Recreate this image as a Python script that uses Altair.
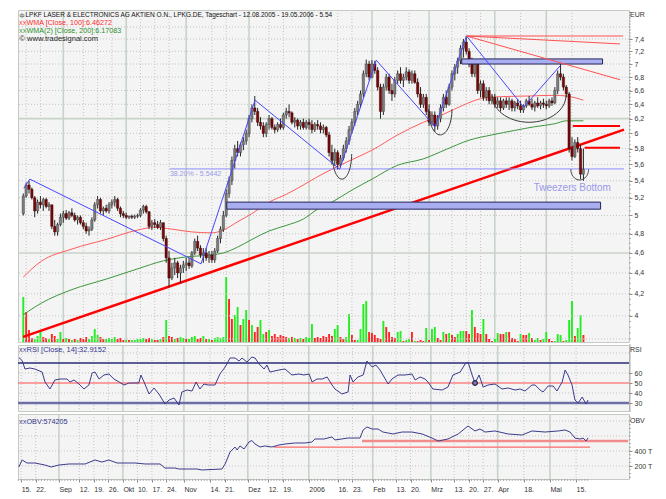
import json
import numpy as np
import pandas as pd
import altair as alt

FONT = "Liberation Sans"

# ---------------- trading calendar ----------------
HOLIDAYS = ["2005-12-26", "2006-04-14", "2006-04-17", "2006-05-01"]
days = [d for d in pd.bdate_range("2005-08-12", "2006-05-19") if d.strftime("%Y-%m-%d") not in HOLIDAYS]
day_pos = {d.strftime("%Y-%m-%d"): k for k, d in enumerate(days)}

tick_dates = ["2005-08-15", "2005-08-22", "2005-09-01", "2005-09-12", "2005-09-19", "2005-09-26",
              "2005-10-03", "2005-10-10", "2005-10-17", "2005-10-24", "2005-11-01", "2005-11-14",
              "2005-11-21", "2005-12-01", "2005-12-12", "2005-12-19", "2006-01-02", "2006-01-16",
              "2006-01-23", "2006-02-01", "2006-02-13", "2006-02-20", "2006-03-01", "2006-03-13",
              "2006-03-20", "2006-03-27", "2006-04-03", "2006-04-18", "2006-05-02", "2006-05-15"]
tick_labels = ["15.", "22.", "Sep", "12.", "19.", "26.", "Okt", "10.", "17.", "24.", "Nov", "14.",
               "21.", "Dez", "12.", "19.", "2006", "16.", "23.", "Feb", "13.", "20.", "Mrz", "13.",
               "20.", "27.", "Apr", "18.", "Mai", "15."]
tick_major = [0, 0, 1, 0, 0, 0, 1, 0, 0, 0, 1, 0, 0, 1, 0, 0, 1, 0, 0, 1, 0, 0, 1, 0, 0, 0, 1, 0, 1, 0]
tick_idx = [day_pos[d] for d in tick_dates]

# ---------------- OHLC (EUR) ----------------
opens = [
    5.02, 5.22, 5.35, 5.30, 5.20, 5.05, 5.15, 5.12, 5.18, 5.10,
    5.12, 4.88, 4.82, 4.90, 4.98, 5.02, 4.97, 5.03, 5.00, 4.95,
    4.98, 4.92, 4.88, 4.83, 4.85, 4.95, 5.12, 5.18, 5.05, 5.08,
    5.05, 5.12, 5.15, 5.18, 5.08, 5.02, 5.00, 4.98, 4.99, 4.98,
    4.99, 5.00, 5.06, 5.10, 5.04, 4.88, 4.92, 4.90, 4.87, 4.92,
    4.75, 4.55, 4.35, 4.45, 4.50, 4.40, 4.45, 4.48, 4.50, 4.47,
    4.60, 4.72, 4.65, 4.58, 4.60, 4.55, 4.58, 4.53, 4.62, 4.75,
    4.85, 5.00, 5.25, 5.40, 5.65, 5.80, 5.75, 5.85, 5.90, 6.00,
    6.20, 6.35, 6.30, 6.15, 6.10, 6.00, 6.12, 6.20, 6.08, 6.05,
    6.12, 6.08, 6.25, 6.30, 6.28, 6.15, 6.18, 6.10, 6.15, 6.08,
    6.15, 6.12, 6.05, 6.12, 6.10, 6.05, 6.08, 5.98, 5.75, 5.65,
    5.75, 5.60, 5.68, 5.80, 5.90, 6.05, 6.15, 6.30, 6.40, 6.55,
    6.85, 7.00, 6.80, 7.00, 6.90, 6.65, 6.30, 6.65, 6.80, 6.60,
    6.55, 6.75, 6.85, 6.75, 6.80, 6.88, 6.75, 6.85, 6.72, 6.55,
    6.40, 6.50, 6.30, 6.15, 6.25, 6.10, 6.20, 6.35, 6.50, 6.40,
    6.65, 6.85, 6.95, 7.05, 7.25, 7.35, 7.20, 7.00, 6.85, 7.00,
    6.60, 6.70, 6.50, 6.60, 6.45, 6.50, 6.40, 6.45, 6.35, 6.45,
    6.40, 6.45, 6.35, 6.42, 6.38, 6.32, 6.38, 6.45, 6.40, 6.36,
    6.42, 6.38, 6.42, 6.40, 6.38, 6.45, 6.42, 6.60, 6.85, 6.80,
    6.65, 6.55, 5.80, 5.70, 5.88, 5.80, 5.48]
highs = [
    5.25, 5.38, 5.40, 5.32, 5.22, 5.18, 5.22, 5.20, 5.20, 5.15,
    5.12, 4.95, 4.92, 5.02, 5.05, 5.06, 5.05, 5.08, 5.03, 5.00,
    5.00, 4.95, 4.92, 4.88, 4.98, 5.15, 5.22, 5.20, 5.10, 5.12,
    5.15, 5.18, 5.22, 5.20, 5.10, 5.05, 5.03, 5.00, 5.01, 5.01,
    5.02, 5.08, 5.12, 5.12, 5.05, 4.95, 4.96, 4.94, 4.95, 4.92,
    4.78, 4.62, 4.50, 4.55, 4.52, 4.48, 4.52, 4.55, 4.55, 4.62,
    4.75, 4.78, 4.68, 4.65, 4.65, 4.62, 4.62, 4.65, 4.78, 4.88,
    5.05, 5.30, 5.45, 5.70, 5.85, 5.90, 5.88, 5.95, 6.05, 6.25,
    6.40, 6.52, 6.35, 6.22, 6.15, 6.15, 6.25, 6.22, 6.12, 6.15,
    6.20, 6.28, 6.35, 6.40, 6.30, 6.22, 6.20, 6.18, 6.20, 6.18,
    6.20, 6.18, 6.15, 6.18, 6.15, 6.12, 6.10, 6.02, 5.85, 5.80,
    5.78, 5.72, 5.85, 5.95, 6.10, 6.20, 6.35, 6.45, 6.60, 6.90,
    7.07, 7.05, 7.06, 7.05, 6.95, 6.70, 6.70, 6.85, 6.85, 6.70,
    6.80, 6.90, 6.95, 6.85, 6.95, 6.92, 6.90, 6.90, 6.78, 6.65,
    6.55, 6.55, 6.40, 6.30, 6.30, 6.25, 6.40, 6.55, 6.60, 6.70,
    6.90, 7.00, 7.10, 7.30, 7.40, 7.45, 7.25, 7.10, 7.05, 7.05,
    6.75, 6.75, 6.65, 6.65, 6.55, 6.55, 6.50, 6.50, 6.48, 6.50,
    6.50, 6.48, 6.45, 6.48, 6.45, 6.40, 6.48, 6.52, 6.48, 6.45,
    6.50, 6.45, 6.48, 6.45, 6.48, 6.50, 6.65, 6.90, 7.00, 6.85,
    6.68, 6.58, 5.95, 5.92, 5.95, 5.85, 5.80]
lows = [
    5.00, 5.20, 5.25, 5.18, 4.98, 5.02, 5.08, 5.05, 5.08, 5.05,
    4.85, 4.78, 4.78, 4.88, 4.92, 4.95, 4.95, 4.98, 4.93, 4.90,
    4.90, 4.85, 4.80, 4.78, 4.83, 4.93, 5.08, 5.02, 5.00, 5.03,
    5.02, 5.08, 5.10, 5.05, 4.98, 4.97, 4.96, 4.96, 4.96, 4.96,
    4.97, 4.98, 5.02, 5.02, 4.85, 4.84, 4.86, 4.85, 4.84, 4.72,
    4.50, 4.26, 4.33, 4.38, 4.35, 4.30, 4.40, 4.42, 4.44, 4.45,
    4.58, 4.62, 4.55, 4.50, 4.52, 4.50, 4.50, 4.50, 4.60, 4.70,
    4.82, 4.98, 5.20, 5.35, 5.55, 5.70, 5.70, 5.78, 5.85, 5.95,
    6.15, 6.25, 6.10, 6.05, 5.95, 5.95, 6.05, 6.05, 6.00, 6.02,
    6.05, 6.05, 6.20, 6.22, 6.12, 6.08, 6.05, 6.05, 6.05, 6.05,
    6.05, 6.00, 6.02, 6.05, 6.00, 6.00, 5.95, 5.70, 5.60, 5.58,
    5.54, 5.56, 5.65, 5.75, 5.85, 6.00, 6.10, 6.25, 6.35, 6.50,
    6.80, 6.75, 6.78, 6.85, 6.60, 6.20, 6.25, 6.60, 6.55, 6.45,
    6.50, 6.70, 6.70, 6.65, 6.75, 6.70, 6.70, 6.70, 6.50, 6.35,
    6.35, 6.25, 6.10, 6.10, 6.02, 6.05, 6.15, 6.30, 6.35, 6.38,
    6.60, 6.75, 6.85, 7.00, 7.10, 7.15, 6.95, 6.80, 6.80, 6.55,
    6.50, 6.45, 6.45, 6.40, 6.40, 6.35, 6.35, 6.30, 6.32, 6.35,
    6.32, 6.30, 6.30, 6.33, 6.28, 6.28, 6.35, 6.38, 6.32, 6.30,
    6.35, 6.33, 6.35, 6.33, 6.35, 6.38, 6.40, 6.55, 6.75, 6.60,
    6.50, 5.75, 5.65, 5.68, 5.75, 5.42, 5.40]
closes = [
    5.22, 5.35, 5.30, 5.20, 5.05, 5.15, 5.12, 5.18, 5.10, 5.12,
    4.88, 4.82, 4.90, 4.98, 5.02, 4.97, 5.03, 5.00, 4.95, 4.98,
    4.92, 4.88, 4.83, 4.85, 4.95, 5.12, 5.18, 5.05, 5.08, 5.05,
    5.12, 5.15, 5.18, 5.08, 5.02, 5.00, 4.98, 4.99, 4.98, 4.99,
    5.00, 5.06, 5.10, 5.04, 4.88, 4.92, 4.90, 4.87, 4.92, 4.75,
    4.55, 4.35, 4.45, 4.50, 4.40, 4.45, 4.48, 4.50, 4.47, 4.60,
    4.72, 4.65, 4.58, 4.60, 4.55, 4.58, 4.53, 4.62, 4.75, 4.85,
    5.00, 5.25, 5.40, 5.65, 5.80, 5.75, 5.85, 5.90, 6.00, 6.20,
    6.35, 6.30, 6.15, 6.10, 6.00, 6.12, 6.20, 6.08, 6.05, 6.12,
    6.08, 6.25, 6.30, 6.28, 6.15, 6.18, 6.10, 6.15, 6.08, 6.15,
    6.12, 6.05, 6.12, 6.10, 6.05, 6.08, 5.98, 5.75, 5.65, 5.75,
    5.60, 5.68, 5.80, 5.90, 6.05, 6.15, 6.30, 6.40, 6.55, 6.85,
    7.00, 6.80, 7.00, 6.90, 6.65, 6.30, 6.65, 6.80, 6.60, 6.55,
    6.75, 6.85, 6.75, 6.80, 6.88, 6.75, 6.85, 6.72, 6.55, 6.40,
    6.50, 6.30, 6.15, 6.25, 6.10, 6.20, 6.35, 6.50, 6.40, 6.65,
    6.85, 6.95, 7.05, 7.25, 7.35, 7.20, 7.00, 6.85, 7.00, 6.60,
    6.70, 6.50, 6.60, 6.45, 6.50, 6.40, 6.45, 6.35, 6.45, 6.40,
    6.45, 6.35, 6.42, 6.38, 6.32, 6.38, 6.45, 6.40, 6.36, 6.42,
    6.38, 6.42, 6.40, 6.38, 6.45, 6.42, 6.60, 6.85, 6.80, 6.65,
    6.55, 5.80, 5.70, 5.88, 5.80, 5.48, 5.54]

# volume (relative units) and bar colour (g = green, r = red)
volumes = [
    45, 30, 12, 4, 3, 6, 12, 5, 4, 3,
    8, 6, 3, 10, 3, 4, 3, 2, 3, 2,
    4, 3, 5, 3, 6, 13, 7, 5, 3, 3,
    4, 3, 5, 3, 4, 2, 2, 2, 2, 2,
    3, 3, 4, 3, 4, 3, 2, 2, 3, 5,
    22, 6, 5, 3, 4, 5, 4, 3, 3, 5,
    6, 3, 4, 6, 3, 3, 2, 4, 5, 4,
    5, 65, 43, 23, 27, 35, 17, 23, 32, 22,
    17, 10, 15, 22, 8, 10, 12, 6, 8, 5,
    7, 6, 5, 4, 5, 4, 3, 4, 3, 5,
    4, 18, 4, 5, 4, 6, 5, 8, 6, 13,
    17, 5, 3, 5, 28, 7, 2, 2, 13, 38,
    41, 10, 9, 7, 4, 3, 21, 15, 10, 5,
    4, 10, 11, 1, 2, 3, 10, 1, 1, 2,
    1, 14, 2, 13, 15, 4, 2, 10, 8, 9,
    7, 5, 8, 11, 11, 11, 8, 32, 15, 9,
    8, 23, 8, 3, 1, 3, 9, 8, 8, 10,
    10, 4, 3, 1, 8, 7, 7, 9, 4, 2,
    4, 2, 3, 10, 3, 1, 1, 8, 7, 1,
    2, 22, 41, 6, 14, 27, 7]
vol_colors = ("grrrgggrrg" "rrggrgrgrg" "rrrggggrrg" "gggrrrgrgg" "gggrrgrrgr"
              "grrgrggrgg" "grrgrgrggg" "ggrrggrggr" "grrggrgrrr" "rrrgrgrgrg"
              "ggrrrrrrrg" "grrggrrggg" "grrrrrgrrr" "rggrggrgrr" "rgrggrrgrg"
              "rrgggrrgrr" "rgrrrggrrg" "rrrrgrrgrg" "grggrrgggr" "gggrggr")

# moving averages (trading-day index, EUR)
w100_i = [0, 6, 17, 29, 40, 46, 52, 59, 66, 70, 75, 80, 86, 92, 98, 103, 108, 115, 122, 131,
          140, 147, 154, 160, 167, 177, 186, 190, 196]
w100_p = [4.36, 4.51, 4.64, 4.74, 4.84, 4.87, 4.85, 4.82, 4.81, 4.84, 4.93, 5.02, 5.15, 5.24,
          5.35, 5.45, 5.54, 5.66, 5.78, 5.98, 6.15, 6.26, 6.39, 6.48, 6.51, 6.52, 6.53, 6.52, 6.46]
w200_i = [0, 6, 17, 29, 40, 49, 57, 66, 70, 75, 80, 86, 92, 98, 103, 108, 115, 122, 131, 140,
          148, 156, 164, 172, 179, 186, 190, 196]
w200_p = [4.01, 4.11, 4.24, 4.34, 4.44, 4.52, 4.56, 4.58, 4.60, 4.66, 4.74, 4.83, 4.89, 4.96,
          5.07, 5.15, 5.29, 5.42, 5.59, 5.67, 5.79, 5.91, 5.98, 6.04, 6.09, 6.13, 6.17, 6.17]

# RSI(14)
rsi_i = [0.2, 1.3, 2.3, 4.0, 5.7, 8.2, 9.2, 10.9, 12.6, 14.4, 16.8, 17.8, 19.2, 20.9, 22.6, 24.3,
         25.4, 26.4, 27.8, 29.5, 31.2, 32.9, 34.7, 36.4, 38.1, 41.5, 42.2, 43.3, 45.0, 46.7, 48.4,
         50.5, 51.9, 53.6, 55.3, 56.3, 58.1, 59.8, 61.2, 62.5, 63.9, 65.3, 67.7, 69.4, 71.2, 72.9,
         74.6, 76.0, 77.0, 78.7, 80.4, 81.5, 82.9, 84.6, 85.6, 86.6, 89.7, 91.8, 94.2, 96.6, 98.3,
         100.1, 101.1, 102.8, 104.6, 106.3, 108.0, 109.0, 111.4, 113.5, 114.2, 115.2, 116.9, 118.7,
         120.0, 121.8, 123.1, 124.5, 125.5, 127.3, 128.6, 130.7, 133.1, 135.5, 136.6, 138.3, 140.0,
         141.0, 142.7, 145.9, 147.9, 149.6, 152.1, 153.8, 154.8, 156.2, 157.2, 158.6, 160.0, 161.7,
         164.1, 166.5, 168.6, 171.0, 172.7, 174.4, 176.8, 177.9, 179.6, 180.6, 182.4, 184.1, 185.4,
         187.2, 188.2, 189.2, 190.6, 191.6, 192.7, 194.1, 195.4, 196.1]
rsi_v = [75.5, 72.5, 64, 65, 64, 61, 51, 44, 53, 54, 54, 51, 53, 49, 44, 48, 60, 61, 54, 58,
         59, 54, 51, 48, 50, 50, 58, 51, 39, 45, 39, 29, 33, 35, 28, 41, 43, 42, 51, 44,
         49, 48, 48, 59, 66, 75, 75, 72, 75, 71, 76, 75, 69, 64, 68, 61, 63, 64, 58, 59,
         58, 59, 51, 54, 54, 56, 48, 44, 39, 41, 58, 51, 56, 58, 72, 66, 68, 63, 58, 49,
         54, 58, 58, 59, 53, 56, 54, 51, 44, 43, 46, 58, 61, 69, 71, 58, 50, 58, 46, 48,
         49, 44, 45, 43, 44, 42, 48, 48, 43, 41, 47, 47, 42, 51, 63, 58, 48, 33, 30, 36,
         29, 33]
rsi_levels = [70, 50, 30]

# OBV (thousands)
obv_i = [0.2, 1.3, 3.0, 5.7, 9.2, 11.3, 14.0, 17.5, 23.0, 26.4, 28.8, 31.2, 34.0, 40.2, 43.6,
         48.8, 50.5, 53.9, 55.3, 61.5, 63.2, 70.1, 71.2, 72.9, 74.6, 75.3, 76.3, 77.7, 79.4, 80.4,
         81.5, 83.2, 84.9, 87.3, 89.7, 91.8, 95.3, 98.7, 101.1, 102.1, 105.2, 108.0, 109.0, 113.5,
         117.6, 118.7, 120.0, 121.8, 123.8, 125.5, 129.0, 132.1, 135.5, 139.0, 142.4, 144.5, 147.9,
         151.4, 154.8, 157.2, 158.9, 160.7, 164.1, 168.6, 173.4, 176.8, 181.3, 185.8, 188.2, 189.9,
         191.6, 193.4, 194.4, 195.4, 196.1]
obv_v = [187, 280, 240, 240, 213, 187, 213, 227, 227, 280, 253, 280, 240, 240, 227, 227, 173, 173,
         160, 160, 147, 160, 227, 387, 453, 413, 467, 427, 520, 540, 493, 453, 467, 453, 480, 493,
         507, 507, 520, 560, 560, 587, 547, 573, 573, 680, 720, 693, 693, 653, 627, 653, 653, 627,
         573, 533, 560, 627, 733, 667, 693, 653, 667, 627, 613, 667, 653, 667, 680, 653, 573, 560,
         573, 533, 574]

# drawings on the price chart (trading-day index, EUR)
zz_i = [0.2, 2.3, 62.2, 81.1, 110.7, 123.5, 144.1, 155.1, 175.1, 187.8]
zz_p = [5.31, 5.42, 4.49, 6.46, 5.54, 7.06, 6.09, 7.45, 6.36, 6.97]
support_i = [-0.1, 210.2]
support_p = [3.817, 6.05]
fib_i = [51.2, 210.2]
fib_p = 5.5442
zone_i1 = [153.4, 71.2]
zone_i2 = [202.7, 202.0]
zone_lo = [7.00, 5.07]
zone_hi = [7.08, 5.15]
peak_i1 = [155.1, 155.1, 155.1]
peak_p1 = [7.45, 7.45, 7.45]
peak_i2 = [209.9, 208.8, 208.8]
peak_p2 = [7.45, 7.32, 6.76]
short_i1 = [192.3, 196.4]
short_i2 = [208.8, 208.8]
short_p = [6.10, 5.81]
arc_c = [111.5, 145.9, 177.0, 194.7]
arc_hw = [3.4, 4.1, 12.9, 3.1]
arc_top = [5.73, 6.33, 6.53, 5.54]
arc_bot = [5.42, 5.98, 6.15, 5.41]
obv_lines_i1 = [118.3, 88.0]
obv_lines_i2 = [209.9, 196.8]
obv_lines_v = [533, 453]

price_grid_dotted = [3.8, 4.0, 4.2, 4.4, 4.8, 5.0, 5.2, 5.4, 5.6, 5.8, 6.0, 6.4, 6.6, 6.8, 7.0, 7.2, 7.4, 7.6]
price_grid_solid = [4.6, 6.2]
price_ticks = [4.0, 4.2, 4.4, 4.6, 4.8, 5.0, 5.2, 5.4, 5.6, 5.8, 6.0, 6.2, 6.4, 6.6, 6.8, 7.0, 7.2, 7.4]
rsi_ticks = [30, 40, 50, 60]
rsi_grid = [80, 60, 40]
obv_ticks = [200, 400]
obv_grid = [200, 400, 600, 800]

# ---------------- frames ----------------
df = pd.DataFrame({"i": range(len(closes)), "o": opens, "h": highs, "l": lows, "c": closes,
                   "v": volumes, "vc": list(vol_colors)})
up = df[df.c >= df.o]
dn = df[df.c < df.o]
vg = df[df.vc == "g"]
vr = df[df.vc == "r"]

W, H1, H2, H3 = 611, 332, 66, 65
xs = alt.Scale(domain=[-0.1, 210.2], nice=False, zero=False)
ps = alt.Scale(type="log", domain=[3.774, 7.893], nice=False)
vs = alt.Scale(domain=[0, 332], nice=False)
rs = alt.Scale(domain=[22, 88], nice=False)
obs = alt.Scale(domain=[26.7, 893.3], nice=False)

AX = dict(domain=False, grid=False, title=None, labelFont=FONT, labelFontSize=7,
          labelColor="#333333", tickColor="#8a8a8a", tickSize=3, labelPadding=2)
PAX = alt.Axis(orient="right", values=price_ticks,
               labelExpr="replace(format(datum.value, datum.value % 1 < 0.01 ? 'd' : '.1f'), '.', ',')", **AX)
RAX = alt.Axis(orient="right", values=rsi_ticks, **AX)
OAX = alt.Axis(orient="right", values=obv_ticks, labelExpr="datum.value + ' T'", **AX)
lab_expr = f"{json.dumps(tick_labels)}[indexof({json.dumps(tick_idx)}, datum.value)]"
XAX = alt.Axis(values=tick_idx, labelExpr=lab_expr, labelAlign="left", labelOverlap=False,
               labelFlush=False, domain=False, grid=False, title=None, labelFont=FONT,
               labelFontSize=7, labelColor="#333333", tickColor="#8a8a8a", tickSize=3, labelPadding=3)


def X(field="i", axis=None):
    return alt.X(f"{field}:Q", scale=xs, axis=axis, title=None)


def T(text, x, y, color, size=7, align="left"):
    return alt.Chart(pd.DataFrame({"t": [text]})).mark_text(
        align=align, baseline="middle", fontSize=size, color=color, font=FONT
    ).encode(x=alt.value(x), y=alt.value(y), text="t:N")


def vgrid(axis=None):
    g = pd.DataFrame({"i": tick_idx, "m": tick_major})
    minor = alt.Chart(g[g.m == 0]).mark_rule(color="#c4c4c4", strokeDash=[1, 2], strokeWidth=1).encode(x=X(axis=axis))
    major = alt.Chart(g[g.m == 1]).mark_rule(color="#c8d3c8", strokeWidth=1.6).encode(x=X(axis=axis))
    return [minor, major]


def right_ticks(values, scale, axis, field="y"):
    return alt.Chart(pd.DataFrame({field: values})).mark_rule(color="#9a9a9a", strokeWidth=0.8).encode(
        x=alt.value(W), x2=alt.value(W + 2), y=alt.Y(f"{field}:Q", scale=scale, axis=axis))


def PY(field):
    return alt.Y(f"{field}:Q", scale=ps, axis=PAX, title=None)


# ---------------- panel 1: price + volume ----------------
vol_layer = alt.layer(
    *vgrid(),
    alt.Chart(vg).mark_bar(size=1.9, color="#22ee22").encode(x=X(), y=alt.Y("v:Q", scale=vs, axis=None)),
    alt.Chart(vr).mark_bar(size=1.9, color="#ff2424").encode(x=X(), y=alt.Y("v:Q", scale=vs, axis=None)),
)

arc_rows = []
t = np.linspace(0, np.pi, 31)
for a in range(len(arc_c)):
    lt, lb = np.log(arc_top[a]), np.log(arc_bot[a])
    for k, tt in enumerate(t):
        arc_rows.append({"arc": a, "k": k, "i": arc_c[a] + arc_hw[a] * np.cos(tt),
                         "p": float(np.exp(lt - (lt - lb) * np.sin(tt)))})
arcs = pd.DataFrame(arc_rows)

price_minor = [round(3.8 + 0.05 * k, 2) for k in range(82)]

price_layer = alt.layer(
    alt.Chart(pd.DataFrame({"p": price_grid_dotted})).mark_rule(color="#c4c4c4", strokeDash=[1, 2]).encode(y=PY("p")),
    alt.Chart(pd.DataFrame({"p": price_grid_solid})).mark_rule(color="#c8d3c8", strokeWidth=1.6).encode(y=PY("p")),
    right_ticks(price_minor, ps, PAX),
    alt.Chart(pd.DataFrame({"i": support_i, "p": support_p})).mark_line(color="#ff0000", strokeWidth=2.5).encode(x=X(), y=PY("p")),
    alt.Chart(pd.DataFrame({"i": w100_i, "p": w100_p})).mark_line(color="#ff5c5c", strokeWidth=1, interpolate="monotone").encode(x=X(), y=PY("p")),
    alt.Chart(pd.DataFrame({"i": w200_i, "p": w200_p})).mark_line(color="#3c963c", strokeWidth=1, interpolate="monotone").encode(x=X(), y=PY("p")),
    alt.Chart(pd.DataFrame({"i1": [fib_i[0]], "i2": [fib_i[1]], "p": [fib_p]})).mark_rule(color="#8e8eff", strokeWidth=1).encode(
        x=X("i1"), x2=alt.X2("i2"), y=PY("p")),
    alt.Chart(df).mark_rule(color="#262626", strokeWidth=1).encode(x=X(), y=PY("l"), y2=alt.Y2("h")),
    alt.Chart(up).mark_bar(size=2.4, color="#7c7c7c", stroke="#3c3c3c", strokeWidth=0.4).encode(x=X(), y=PY("o"), y2=alt.Y2("c")),
    alt.Chart(dn).mark_bar(size=2.4, color="#760808", stroke="#3a0000", strokeWidth=0.4).encode(x=X(), y=PY("o"), y2=alt.Y2("c")),
    alt.Chart(pd.DataFrame({"i1": zone_i1, "i2": zone_i2, "lo": zone_lo, "hi": zone_hi})).mark_rect(
        fill="#a9aef0", stroke="#25255a", strokeWidth=1).encode(x=X("i1"), x2=alt.X2("i2"), y=PY("lo"), y2=alt.Y2("hi")),
    alt.Chart(pd.DataFrame({"i": zz_i, "p": zz_p, "k": range(len(zz_i))})).mark_line(color="#4646ff", strokeWidth=1).encode(
        x=X(), y=PY("p"), order="k:Q"),
    alt.Chart(arcs).mark_line(color="#3a3a3a", strokeWidth=1).encode(x=X(), y=PY("p"), detail="arc:N", order="k:Q"),
    alt.Chart(pd.DataFrame({"i1": peak_i1, "p1": peak_p1, "i2": peak_i2, "p2": peak_p2})).mark_rule(
        color="#ff5050", strokeWidth=1).encode(x=X("i1"), x2=alt.X2("i2"), y=PY("p1"), y2=alt.Y2("p2")),
    alt.Chart(pd.DataFrame({"i1": short_i1, "i2": short_i2, "p": short_p})).mark_rule(
        color="#ff0000", strokeWidth=2).encode(x=X("i1"), x2=alt.X2("i2"), y=PY("p")),
    alt.Chart(pd.DataFrame({"i": [fib_i[0] + 0.1], "p": [fib_p], "t": ["38.20% - 5.5442"]})).mark_text(
        align="left", baseline="middle", dy=5, fontSize=7, color="#9a9ae8", font=FONT).encode(x=X(), y=PY("p"), text="t:N"),
    alt.Chart(pd.DataFrame({"i": [178.6], "p": [5.31], "t": ["Tweezers Bottom"]})).mark_text(
        align="left", baseline="middle", fontSize=10, color="#9a9ae8", font=FONT).encode(x=X(), y=PY("p"), text="t:N"),
    T("ф", 1.5, 4.5, "#333333", 6),
    T("LPKF LASER & ELECTRONICS AG AKTIEN O.N., LPKG.DE, Tageschart - 12.08.2005 - 19.05.2006 - 5.54", 7.5, 4.5, "#111111", 6.5),
    T("XX", 1, 12.5, "#ff2a2a", 5.5),
    T("WMA [Close, 100]:6.46272", 8.5, 12.5, "#ff2a2a", 7.2),
    T("XX", 1, 20.5, "#2a8f2a", 5.5),
    T("WMA(2) [Close, 200]:6.17083", 8.5, 20.5, "#2a8f2a", 7.2),
    T("© www.tradesignal.com", 1.5, 28.5, "#222222", 7.5),
    T("EUR", W + 1, 4.5, "#333333"),
)

p1 = alt.layer(vol_layer, price_layer).resolve_scale(y="independent").properties(width=W, height=H1)

# ---------------- panel 2: RSI ----------------
def RY(field):
    return alt.Y(f"{field}:Q", scale=rs, axis=RAX, title=None)

rsi_minor = list(range(22, 89, 2))
p2 = alt.layer(
    *vgrid(),
    alt.Chart(pd.DataFrame({"r": rsi_grid})).mark_rule(color="#c4c4c4", strokeDash=[1, 2]).encode(y=RY("r")),
    right_ticks(rsi_minor, rs, RAX),
    alt.Chart(pd.DataFrame({"r": [rsi_levels[0]]})).mark_rule(color="#2b2b78", strokeWidth=1.5).encode(y=RY("r")),
    alt.Chart(pd.DataFrame({"r": [rsi_levels[1]]})).mark_rule(color="#ff4a4a", strokeWidth=1).encode(y=RY("r")),
    alt.Chart(pd.DataFrame({"r": [rsi_levels[2]]})).mark_rule(color="#6e6ea6", strokeWidth=2.5).encode(y=RY("r")),
    alt.Chart(pd.DataFrame({"i": rsi_i, "r": rsi_v})).mark_line(color="#3b3b8c", strokeWidth=1).encode(x=X(), y=RY("r")),
    alt.Chart(pd.DataFrame({"i": [157.2], "r": [50]})).mark_point(shape="circle", size=22, filled=True,
        fill="#7f7fae", stroke="#23234f", strokeWidth=1.2, opacity=1).encode(x=X(), y=RY("r")),
    T("XX", 1, 5, "#33338a", 5.5),
    T("RSI [Close, 14]:32.9152", 8.5, 5, "#33338a", 7.5),
    T("RSI", W + 1, 5, "#333333"),
).properties(width=W, height=H2)

# ---------------- panel 3: OBV ----------------
def OY(field):
    return alt.Y(f"{field}:Q", scale=obs, axis=OAX, title=None)

obv_minor = list(range(50, 900, 50))
p3 = alt.layer(
    *vgrid(XAX),
    alt.Chart(pd.DataFrame({"o": obv_grid})).mark_rule(color="#c4c4c4", strokeDash=[1, 2]).encode(y=OY("o")),
    right_ticks(obv_minor, obs, OAX),
    alt.Chart(pd.DataFrame({"i": list(range(len(closes)))})).mark_rule(color="#9a9a9a", strokeWidth=0.8).encode(
        x=X(axis=XAX), y=alt.value(H3), y2=alt.value(H3 + 2)),
    alt.Chart(pd.DataFrame({"i1": [obv_lines_i1[0]], "i2": [obv_lines_i2[0]], "o": [obv_lines_v[0]]})).mark_rule(
        color="#f28c8c", strokeWidth=2.5).encode(x=X("i1", XAX), x2=alt.X2("i2"), y=OY("o")),
    alt.Chart(pd.DataFrame({"i1": [obv_lines_i1[1]], "i2": [obv_lines_i2[1]], "o": [obv_lines_v[1]]})).mark_rule(
        color="#ff6a6a", strokeWidth=1.2).encode(x=X("i1", XAX), x2=alt.X2("i2"), y=OY("o")),
    alt.Chart(pd.DataFrame({"i": obv_i, "o": obv_v})).mark_line(color="#3b3b8c", strokeWidth=1).encode(x=X(axis=XAX), y=OY("o")),
    T("XX", 1, 7.5, "#33338a", 5.5),
    T("OBV:574205", 8.5, 7.5, "#33338a", 7.2),
    T("OBV", W + 1, 7, "#333333"),
).properties(width=W, height=H3)

chart = alt.vconcat(p1, p2, p3, spacing=3, bounds="flush").resolve_scale(
    x="independent", y="independent"
).properties(
    padding={"left": 8, "top": 0, "right": 0, "bottom": 0}, background="white"
).configure_view(
    fill="#f4f4f4", stroke="#c3cbc3", strokeWidth=1
).configure_text(font=FONT)

chart.save("out.html", embed_options={"renderer": "svg", "actions": False})
